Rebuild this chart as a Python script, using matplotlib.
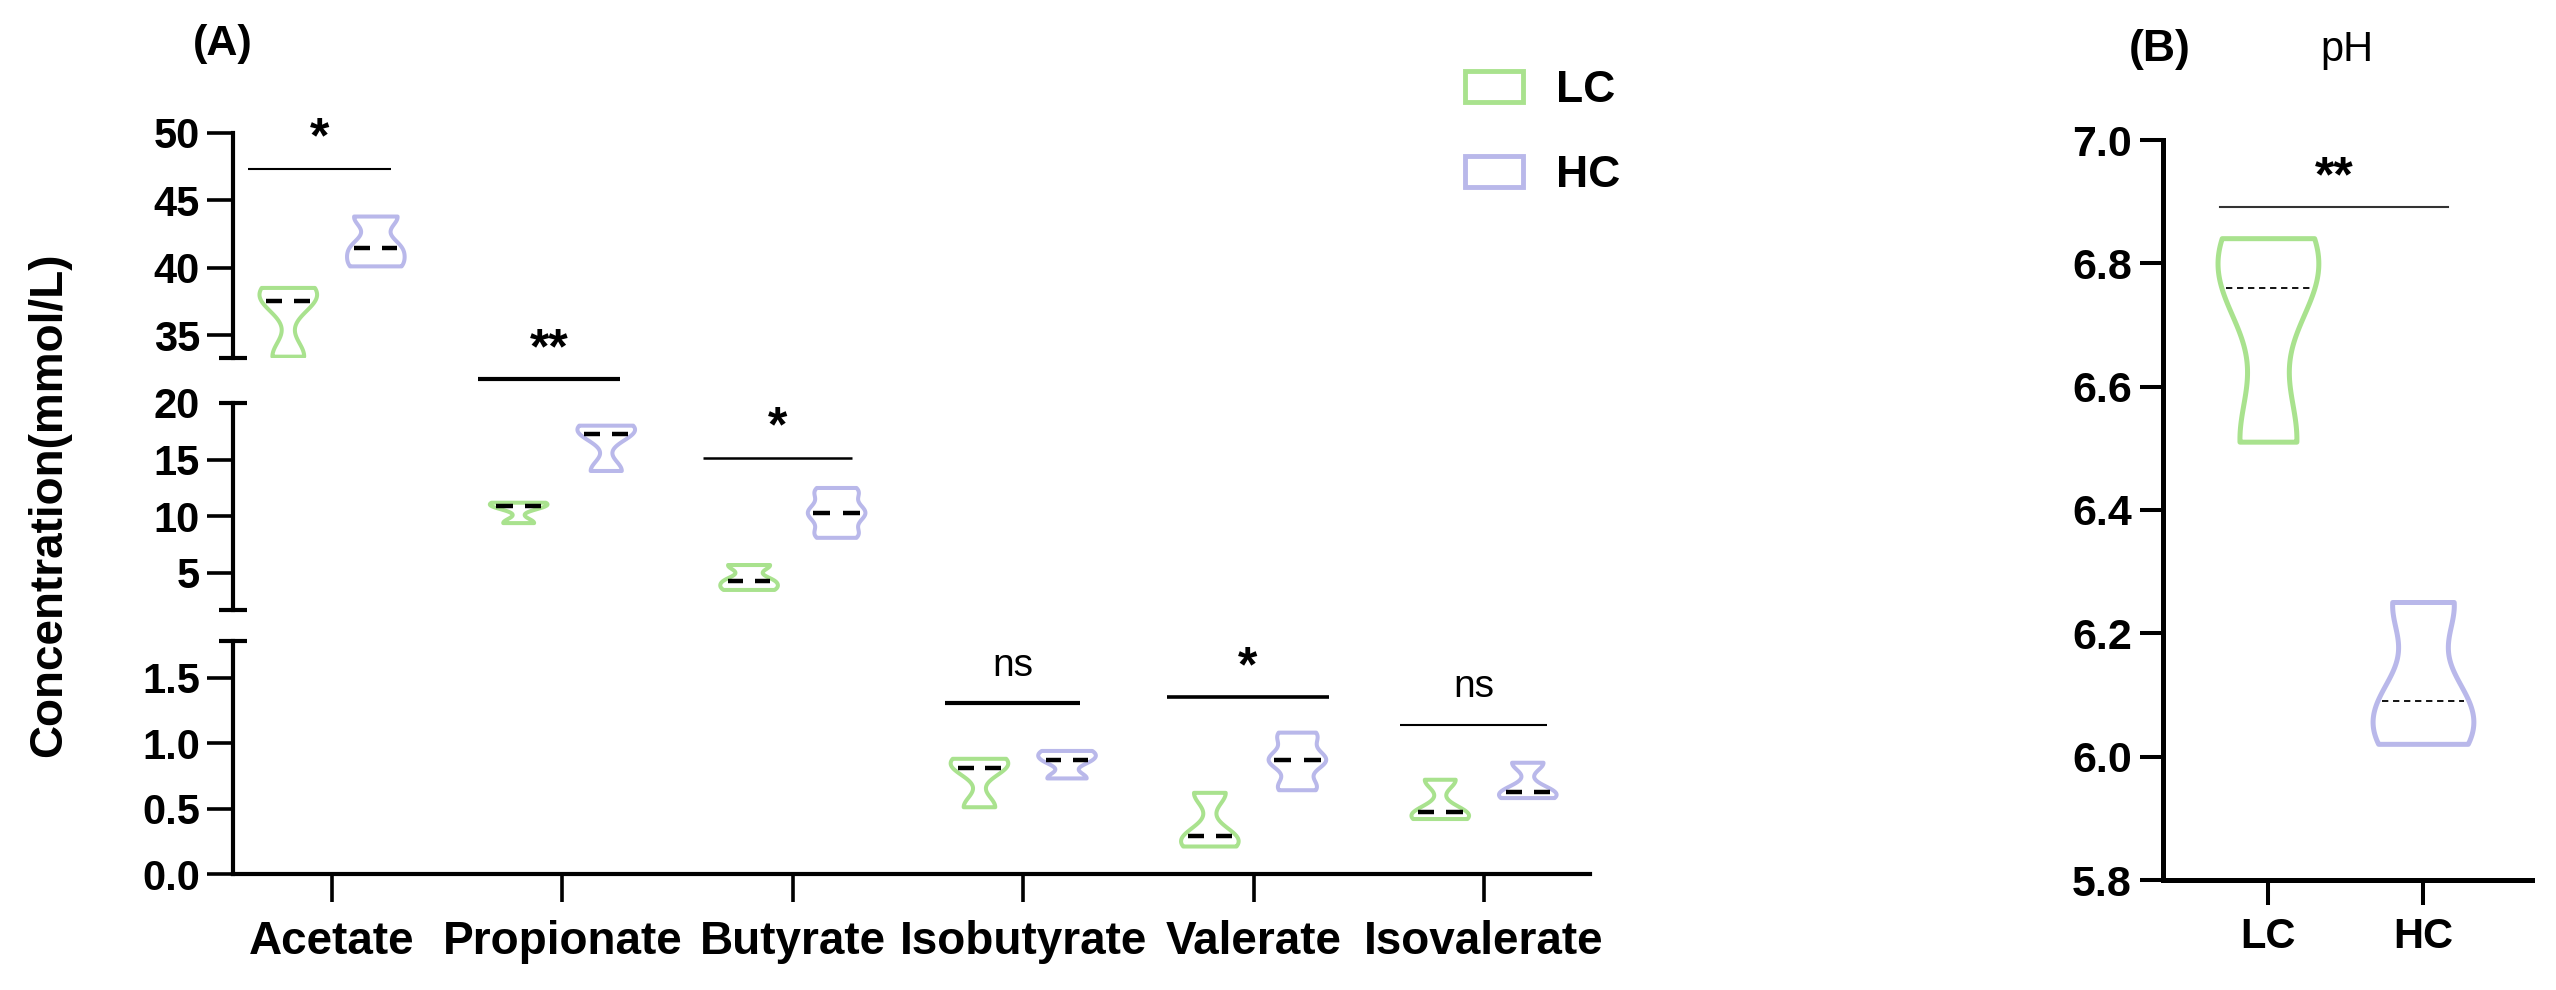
import numpy as np
import matplotlib
matplotlib.use("Agg")
import matplotlib.pyplot as plt
from matplotlib import cbook, mlab
from matplotlib.patches import Patch
from matplotlib.lines import Line2D

plt.rcParams['font.family'] = ['Liberation Sans', 'DejaVu Sans']

# ---------------- data ----------------
categories = ['Acetate', 'Propionate', 'Butyrate', 'Isobutyrate', 'Valerate', 'Isovalerate']
groups = ['LC', 'HC']
lc_values = [[33.4, 37.5, 38.5], [9.4, 10.9, 11.2], [3.5, 4.3, 5.7],
             [0.51, 0.81, 0.88], [0.21, 0.29, 0.62], [0.42, 0.47, 0.72]]
hc_values = [[40.1, 41.5, 43.8], [14.0, 17.3, 18.0], [8.1, 8.6, 9.8, 10.3, 10.8, 12.0, 12.5],
             [0.73, 0.87, 0.94], [0.64, 0.68, 0.84, 0.87, 0.90, 1.04, 1.08], [0.58, 0.63, 0.85]]
sig_labels = ['*', '**', '*', 'ns', '*', 'ns']
sig_y = [47.33, 22.1, 15.15, 1.305, 1.35, 1.14]
sig_panel = [0, 1, 1, 2, 2, 2]          # 0 = top segment, 1 = middle, 2 = bottom
sig_left = [-0.365, -0.366, -0.39, -0.34, -0.376, -0.365]
sig_right = [0.256, 0.25, 0.257, 0.246, 0.327, 0.273]
sig_lw = [1.5, 3.0, 1.8, 3.0, 2.6, 1.5]

ph_lc = [6.51, 6.76, 6.84]
ph_hc = [6.02, 6.09, 6.25]
ph_sig = '**'
ph_sig_y = 6.891

seg_ylims = [(33.3, 50), (1.73, 20), (0, 1.78)]
seg_ticks = [[35, 40, 45, 50], [5, 10, 15, 20], [0.0, 0.5, 1.0, 1.5]]
seg_ticklabels = [['35', '40', '45', '50'], ['5', '10', '15', '20'], ['0.0', '0.5', '1.0', '1.5']]
ph_ticks = [5.8, 6.0, 6.2, 6.4, 6.6, 6.8, 7.0]

GREEN = '#a9e28e'
PURPLE = '#b9b8ea'

W, H = 2556, 990
fig = plt.figure(figsize=(W / 100, H / 100), dpi=100)


def px_axes(left, top, right, bottom):
    return fig.add_axes([left / W, 1 - bottom / H, (right - left) / W, (bottom - top) / H])


def kde_method(bw):
    return lambda X, coords: mlab.GaussianKDE(X, bw).evaluate(coords)


def draw_violins(ax, data, positions, colors, width, lw, bw, median_style):
    stats = cbook.violin_stats(data, kde_method(bw), points=300)
    parts = ax.violin(stats, positions=positions, widths=width,
                      showmeans=False, showextrema=False, showmedians=False)
    for b, c in zip(parts['bodies'], colors):
        b.set_alpha(1)
        b.set_facecolor('none')
        b.set_edgecolor(c)
        b.set_linewidth(lw)
    for s, p in zip(stats, positions):
        m = s['median']
        hw = 0.5 * width * np.interp(m, s['coords'], s['vals']) / s['vals'].max()
        if median_style == 'two':
            for a, bnd in [(-0.82, -0.22), (0.22, 0.82)]:
                ax.plot([p + a * hw, p + bnd * hw], [m, m], color='black', lw=3.2,
                        solid_capstyle='butt')
        else:
            hw *= 0.9
            ax.plot([p - hw, p + hw], [m, m], color='black', lw=1.3,
                    ls=(0, (3.5, 2.6)), dash_capstyle='butt')


# ---------------- panel A (broken axis) ----------------
seg_px = [(133, 358), (403, 610), (641, 874)]
axes_A = [px_axes(233, t, 1590, b) for (t, b) in seg_px]
x = np.arange(len(categories))
off = 0.19
vw = 0.25

for i, ax in enumerate(axes_A):
    draw_violins(ax, lc_values, x - off, [GREEN] * 6, vw, 2.9, 0.42, 'two')
    draw_violins(ax, hc_values, x + off, [PURPLE] * 6, vw, 2.9, 0.42, 'two')
    ax.set_xlim(-0.43, 5.46)
    ax.set_ylim(*seg_ylims[i])
    ax.set_yticks(seg_ticks[i])
    ax.set_yticklabels(seg_ticklabels[i], fontsize=30, fontweight='bold')
    for sp in ['top', 'right']:
        ax.spines[sp].set_visible(False)
    ax.spines['left'].set_linewidth(3.0)
    ax.spines['bottom'].set_linewidth(3.0)
    ax.tick_params(axis='y', length=18.7, width=2.6, pad=5, direction='out')
    ax.set_facecolor('none')
    if i < 2:
        ax.spines['bottom'].set_visible(False)
        ax.tick_params(axis='x', bottom=False, labelbottom=False)
    else:
        ax.set_xticks(x)
        ax.set_xticklabels(categories, fontsize=33, fontweight='bold')
        ax.tick_params(axis='x', length=20, width=2.6, pad=13, direction='out')
    # break caps
    ylo, yhi = seg_ylims[i]
    tr = ax.get_yaxis_transform()
    cap_half = 14 / 1357
    caps = []
    if i > 0:
        caps.append(yhi)
    if i < 2:
        caps.append(ylo)
    for c in caps:
        ax.add_line(Line2D([-cap_half, cap_half], [c, c], transform=tr, color='black',
                           lw=3.0, clip_on=False, solid_capstyle='butt'))
    if i == 1:
        ax.yaxis.get_major_ticks()[-1].tick1line.set_visible(False)

for lab, y, pnl, l, r, lw_, xc in zip(sig_labels, sig_y, sig_panel, sig_left, sig_right, sig_lw, x):
    ax = axes_A[pnl]
    ax.plot([xc + l, xc + r], [y, y], color='black', lw=lw_, clip_on=False,
            solid_capstyle='butt')
    is_ns = lab == 'ns'
    ax.annotate(lab, xy=(xc + (l + r) / 2, y), xytext=(0, 27 if is_ns else 21),
                textcoords='offset points', ha='center', va='center', annotation_clip=False,
                fontsize=28 if is_ns else 36, fontweight='normal' if is_ns else 'bold')

fig.text(49 / W, 1 - 505 / H, 'Concentration(mmol/L)', rotation=90, ha='center', va='center',
         fontsize=33, fontweight='bold')
fig.text(223 / W, 1 - 44 / H, '(A)', ha='center', va='center', fontsize=31, fontweight='bold')

handles = [Patch(facecolor='none', edgecolor=GREEN, lw=3.5, label='LC'),
           Patch(facecolor='none', edgecolor=PURPLE, lw=3.5, label='HC')]
fig.legend(handles=handles, loc='upper left', bbox_to_anchor=(1465 / W, 1 - 70 / H),
           frameon=False, prop={'size': 32, 'weight': 'bold'}, handlelength=1.3,
           handleheight=0.7, handletextpad=0.75, labelspacing=1.0, borderpad=0,
           borderaxespad=0)

# ---------------- panel B ----------------
axB = px_axes(2163, 140, 2532, 880)
draw_violins(axB, [ph_lc, ph_hc], [0, 1], [GREEN, PURPLE], 0.65, 3.6, 0.5, 'dashed')
axB.set_xlim(-0.68, 1.70)
axB.set_ylim(5.8, 7.0)
axB.set_yticks(ph_ticks)
axB.set_yticklabels([f'{t:.1f}' for t in ph_ticks], fontsize=31, fontweight='bold')
axB.set_xticks([0, 1])
axB.set_xticklabels(groups, fontsize=30, fontweight='bold')
for sp in ['top', 'right']:
    axB.spines[sp].set_visible(False)
axB.spines['left'].set_linewidth(3.6)
axB.spines['bottom'].set_linewidth(3.6)
axB.tick_params(axis='y', length=16.5, width=2.9, pad=6)
axB.tick_params(axis='x', length=18, width=2.9, pad=9)
axB.plot([-0.31, 1.16], [ph_sig_y, ph_sig_y], color='#333333', lw=1.5, clip_on=False)
axB.annotate(ph_sig, xy=(0.425, ph_sig_y), xytext=(0, 21), textcoords='offset points',
             ha='center', va='center', fontsize=36, fontweight='bold', annotation_clip=False)
fig.text(2160 / W, 1 - 50 / H, '(B)', ha='center', va='center', fontsize=32, fontweight='bold')
fig.text(2347 / W, 1 - 50 / H, 'pH', ha='center', va='center', fontsize=30)

fig.savefig('out.png', dpi=100, facecolor='white')
